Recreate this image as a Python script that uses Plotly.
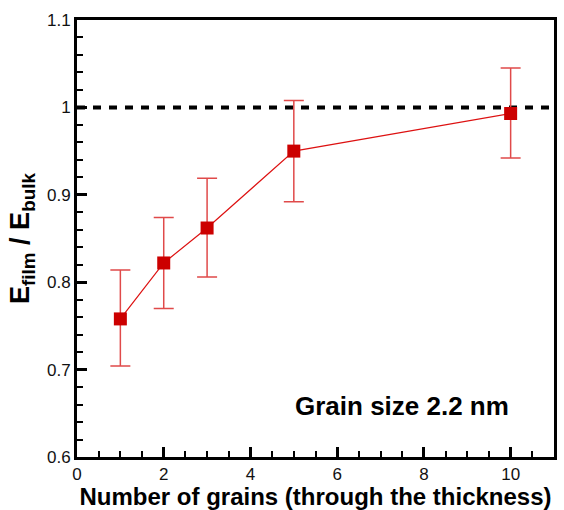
import plotly.graph_objects as go

# Number of grains through the film thickness
grains = [1, 2, 3, 5, 10]
# Normalized modulus E_film / E_bulk
modulus_ratio = [0.758, 0.822, 0.862, 0.950, 0.993]
err_plus = [0.056, 0.052, 0.057, 0.058, 0.052]
err_minus = [0.054, 0.052, 0.056, 0.058, 0.051]

bulk_ref = 1.0
x_ticks = [0, 2, 4, 6, 8, 10]
y_ticks = [0.6, 0.7, 0.8, 0.9, 1.0, 1.1]
y_tick_text = ["0.6", "0.7", "0.8", "0.9", "1", "1.1"]

FONT = "Liberation Sans, Arial"

fig = go.Figure()

# bulk reference line
fig.add_trace(go.Scatter(
    x=[0, 11], y=[bulk_ref, bulk_ref], mode="lines",
    line=dict(color="black", width=4, dash="8px,8px"),
    showlegend=False, hoverinfo="skip",
))

fig.add_trace(go.Scatter(
    x=grains, y=modulus_ratio, mode="lines+markers",
    line=dict(color="#dd1111", width=1.2),
    marker=dict(symbol="square", size=13, color="#cc0000"),
    error_y=dict(type="data", symmetric=False, array=err_plus, arrayminus=err_minus,
                 color="#e04a4a", thickness=1.5, width=10),
    showlegend=False,
))

fig.add_annotation(
    x=7.5, y=0.658, xref="x", yref="y", text="<b>Grain size 2.2 nm</b>",
    showarrow=False, font=dict(size=26, color="black", family=FONT),
    xanchor="center", yanchor="middle",
)

axis_common = dict(
    showline=True, mirror=True, linecolor="black", linewidth=3,
    ticks="inside", tickcolor="black", tickwidth=3, ticklen=10,
    showgrid=False, zeroline=False,
    tickfont=dict(size=17, color="#111111", family=FONT),
)

fig.update_xaxes(
    range=[0, 11], tickvals=x_ticks,
    minor=dict(dtick=0.5, ticks="inside", ticklen=6, tickwidth=1.5, tickcolor="black"),
    title=dict(text="<b>Number of grains (through the thickness)</b>",
               font=dict(size=24, color="black", family=FONT), standoff=2),
    **axis_common,
)
fig.update_yaxes(
    range=[0.6, 1.1], tickvals=y_ticks, ticktext=y_tick_text,
    minor=dict(dtick=0.02, ticks="inside", ticklen=6, tickwidth=1.5, tickcolor="black"),
    title=dict(text="<b>E<sub>film</sub> / E<sub>bulk</sub></b>",
               font=dict(size=27, color="black", family=FONT), standoff=10),
    **axis_common,
)

fig.update_layout(
    width=564, height=510,
    margin=dict(l=77, r=7, t=20, b=51),
    plot_bgcolor="white", paper_bgcolor="white",
)

fig.write_html("out.html")
